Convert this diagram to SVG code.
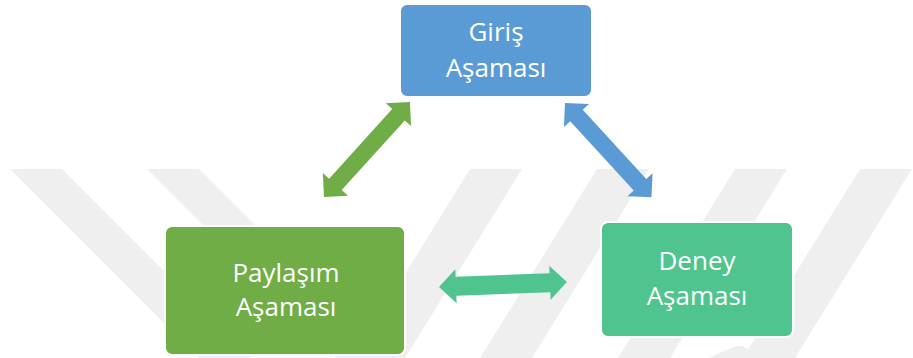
<svg xmlns="http://www.w3.org/2000/svg" width="913" height="358" viewBox="0 0 913 358">
<style>
.wm{fill:#EFEFEF}
.box{stroke:#FFFFFF;stroke-width:2}
.lbl{font-family:"Open Sans","Noto Sans",sans-serif;font-size:26px;fill:#FFFFFF;text-anchor:middle}
</style>
<defs>
<polygon id="dbl" points="0,0 17,-17 17,-8.5 111,-8.5 111,-17 128,0 111,17 111,8.5 17,8.5 17,17"/>
<polygon id="dblh" points="0,0 17,-17 17,-9.5 111,-9.5 111,-17 128,0 111,17 111,9.5 17,9.5 17,17"/>
</defs>
<rect width="913" height="358" fill="#FFFFFF"/>
<g id="watermark">
<polygon class="wm" points="10,169 62,169 251,358 199,358"/>
<polygon class="wm" points="147,169 199,169 388,358 336,358"/>
<polygon class="wm" points="470,169 522,169 405,358 353,358"/>
<polygon class="wm" points="597,169 649,169 532,358 480,358"/>
<polygon class="wm" points="735,169 787,169 670,358 618,358"/>
<polygon class="wm" points="860,169 912,169 795,358 743,358"/>
<polygon class="wm" points="708,358 736,346 742,346 766,358"/>
</g>
<g id="connectors">
<use href="#dbl" fill="#70AD47" transform="translate(324,197) rotate(-47.85)"/>
<use href="#dbl" fill="#5B9BD5" transform="translate(565,103) rotate(47.5)"/>
<use href="#dblh" fill="#50C48E" transform="translate(439,287) rotate(-2.24)"/>
</g>
<g id="giris">
<rect class="box" x="400" y="4" width="192" height="93" rx="7" fill="#5B9BD5"/>
<text class="lbl" x="496" y="41">Giriş</text>
<text class="lbl" x="496" y="77">Aşaması</text>
</g>
<g id="paylasim">
<rect class="box" x="165" y="226" width="240" height="129" rx="7" fill="#70AD47"/>
<text class="lbl" x="286" y="282">Paylaşım</text>
<text class="lbl" x="286" y="316">Aşaması</text>
</g>
<g id="deney">
<rect class="box" x="601" y="222" width="192" height="115" rx="7" fill="#50C48E"/>
<text class="lbl" x="697" y="270">Deney</text>
<text class="lbl" x="697" y="305">Aşaması</text>
</g>
</svg>
